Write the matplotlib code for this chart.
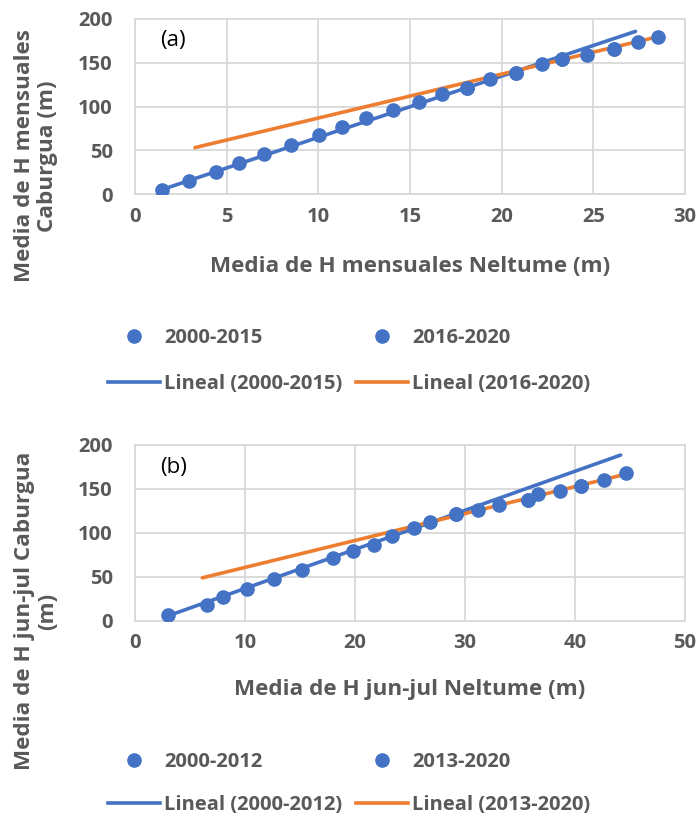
import matplotlib
matplotlib.use("Agg")
import matplotlib.pyplot as plt
from matplotlib.lines import Line2D
import numpy as np

plt.rcParams['font.family'] = ['Open Sans', 'DejaVu Sans']

BLUE = '#4472C4'
ORANGE = '#ED7D31'
GRID = '#D9D9D9'
TXT = '#595959'

# ---------------- Panel (a) data ----------------
a_x_2000_2015 = [1.46, 2.96, 4.42, 5.67, 7.05, 8.51, 10.02, 11.29, 12.6, 14.09,
                 15.48, 16.77, 18.09, 19.37, 20.79, 22.22, 23.31, 24.68, 26.13, 27.42]
a_y_2000_2015 = [4.6, 15.2, 24.8, 35.1, 45.8, 56.4, 67.5, 77.0, 86.6, 96.1,
                 104.9, 114.1, 120.9, 131.2, 138.1, 148.4, 154.1, 159.0, 165.6, 173.6]
a_x_2016_2020 = [18.09, 20.79, 23.31, 26.13, 28.55]
a_y_2016_2020 = [120.9, 138.1, 154.1, 165.6, 180.0]
a_trend_2000_2015 = {'slope': 7.0, 'intercept': -5.26, 'x': [1.46, 27.3]}
a_trend_2016_2020 = {'slope': 5.02, 'intercept': 36.6, 'x': [3.27, 28.55]}
a_xticks = [0, 5, 10, 15, 20, 25, 30]
a_yticks = [0, 50, 100, 150, 200]

# ---------------- Panel (b) data ----------------
b_x_2000_2012 = [3.03, 6.52, 8.03, 10.21, 12.67, 15.21, 18.03, 19.79, 21.73, 23.33,
                 25.36, 26.85, 29.18, 31.15, 33.12, 35.7, 36.67, 38.64, 40.55, 42.64]
b_y_2000_2012 = [6.5, 18.7, 27.3, 36.9, 47.2, 58.5, 71.1, 79.4, 86.2, 96.5,
                 105.2, 112.8, 121.5, 126.1, 131.8, 137.5, 144.0, 147.7, 153.4, 160.2]
b_x_2013_2020 = [29.18, 35.7, 40.55, 44.64]
b_y_2013_2020 = [121.5, 137.5, 153.4, 167.9]
b_trend_2000_2012 = {'slope': 4.44, 'intercept': -7.45, 'x': [3.03, 44.15]}
b_trend_2013_2020 = {'slope': 3.06, 'intercept': 30.3, 'x': [6.12, 44.6]}
b_xticks = [0, 10, 20, 30, 40, 50]
b_yticks = [0, 50, 100, 150, 200]

W, H = 699, 817
fig = plt.figure(figsize=(W / 100, H / 100), dpi=100)


def px_rect(l, t, r, b):
    return [l / W, 1 - b / H, (r - l) / W, (b - t) / H]


def style_axes(ax, xticks, yticks):
    ax.set_xlim(xticks[0], xticks[-1])
    ax.set_ylim(yticks[0], yticks[-1])
    ax.set_xticks(xticks)
    ax.set_yticks(yticks)
    ax.grid(True, color=GRID, linewidth=1.3)
    ax.set_axisbelow(True)
    for s in ax.spines.values():
        s.set_color(GRID)
        s.set_linewidth(1.3)
    ax.tick_params(length=0, labelsize=14.5, labelcolor=TXT)
    ax.tick_params(axis='x', pad=9)
    ax.tick_params(axis='y', pad=16)
    for lab in ax.get_xticklabels() + ax.get_yticklabels():
        lab.set_fontweight('bold')


def trend(ax, t, color):
    xs = np.array(t['x'])
    ax.plot(xs, t['slope'] * xs + t['intercept'], color=color, lw=2.6,
            solid_capstyle='round', zorder=3)


def panel(rect, xa, ya, xb, yb, ta, tb, xticks, yticks, tag, xlabel,
          ylabel, ylab_pos, xlab_y, labels, leg_y, lspace):
    ax = fig.add_axes(px_rect(*rect))
    style_axes(ax, xticks, yticks)
    ax.plot(xa, ya, 'o', color=BLUE, ms=9.5, zorder=4)
    ax.plot(xb, yb, 'o', color=BLUE, ms=9.5, zorder=4)
    trend(ax, ta, BLUE)
    trend(ax, tb, ORANGE)
    ax.text(0.045, 0.875, tag, transform=ax.transAxes, fontsize=16,
            color='black', va='center', ha='left')
    fig.text((rect[0] + rect[2]) / 2 / W, 1 - xlab_y / H, xlabel, ha='center',
             va='center', fontsize=16.2, fontweight='bold', color=TXT)
    fig.text(ylab_pos[0] / W, 1 - ylab_pos[1] / H, ylabel, rotation=90,
             ha='center', va='center', fontsize=16.2, fontweight='bold',
             color=TXT, multialignment='center', linespacing=1.1)
    handles = [
        Line2D([], [], ls='none', marker='o', color=BLUE, ms=9.5),
        Line2D([], [], color=BLUE, lw=2.6),
        Line2D([], [], ls='none', marker='o', color=BLUE, ms=9.5),
        Line2D([], [], color=ORANGE, lw=2.6),
    ]
    leg = fig.legend(handles, labels, ncol=2, loc='upper left',
                     bbox_to_anchor=(98 / W, 1 - leg_y / H), frameon=False,
                     prop={'family': 'Open Sans', 'weight': 'bold', 'size': 14.5},
                     handlelength=2.6, handletextpad=0.2, columnspacing=0.65,
                     labelspacing=lspace, borderpad=0)
    for t in leg.get_texts():
        t.set_color(TXT)
    return ax


panel((135, 19, 685, 194), a_x_2000_2015, a_y_2000_2015, a_x_2016_2020,
      a_y_2016_2020, a_trend_2000_2015, a_trend_2016_2020, a_xticks, a_yticks,
      '(a)', 'Media de H mensuales Neltume (m)',
      'Media de H mensuales\nCaburgua (m)', (36, 156), 266,
      ['2000-2015', 'Lineal (2000-2015)', '2016-2020', 'Lineal (2016-2020)'],
      318, 1.3)

panel((135, 445, 685, 621), b_x_2000_2012, b_y_2000_2012, b_x_2013_2020,
      b_y_2013_2020, b_trend_2000_2012, b_trend_2013_2020, b_xticks, b_yticks,
      '(b)', 'Media de H jun-jul Neltume (m)',
      'Media de H jun-jul Caburgua\n(m)', (36, 611), 690,
      ['2000-2012', 'Lineal (2000-2012)', '2013-2020', 'Lineal (2013-2020)'],
      742, 1.15)

fig.savefig('out.png', dpi=100)
